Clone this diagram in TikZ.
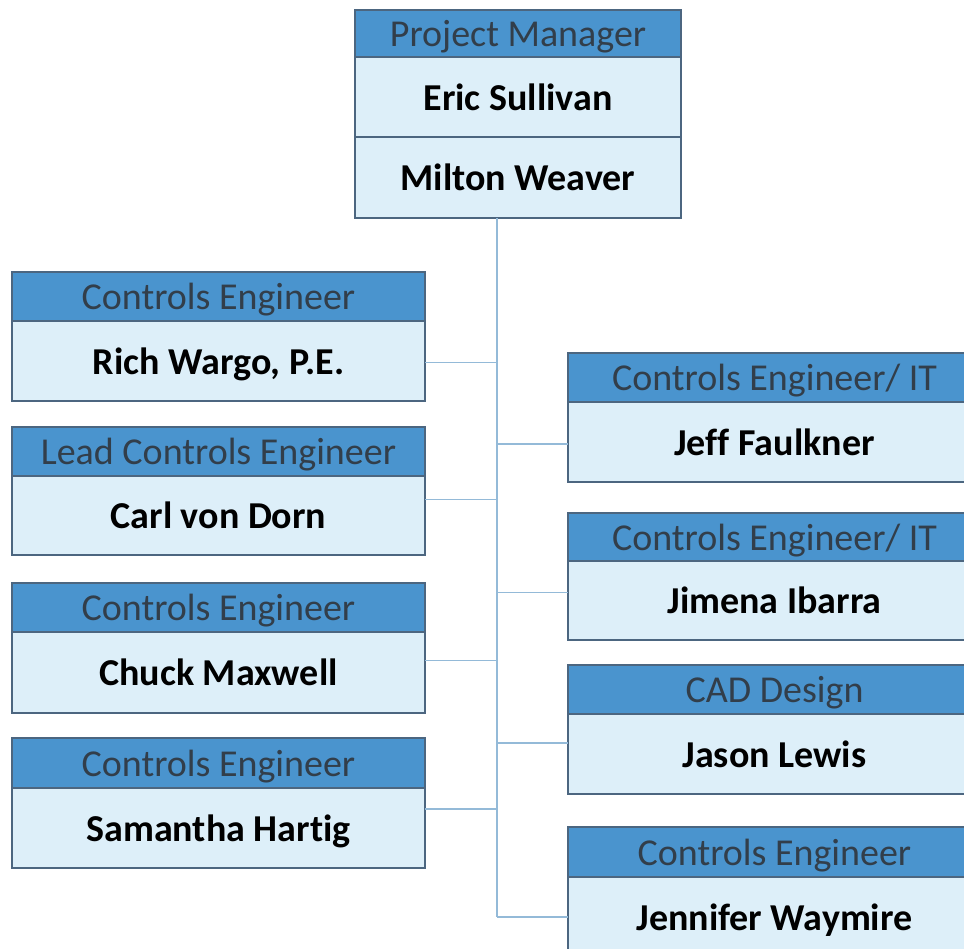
\documentclass[tikz,border=0pt]{standalone}
\usepackage{fontspec}
\setmainfont{Carlito}[Ligatures=NoCommon]
\usepackage{tikz}
\usetikzlibrary{positioning}
\definecolor{kopfblau}{RGB}{74,148,206}
\definecolor{feldblau}{RGB}{221,239,249}
\definecolor{rahmen}{RGB}{76,102,128}
\definecolor{linienblau}{RGB}{148,186,216}
\definecolor{kopfschrift}{RGB}{50,62,74}
\def \breiteSpalte {413pt}
\def \breiteOben {326pt}
\tikzset{
  kopf/.style={draw=rahmen,line width=1.5pt,fill=kopfblau,text=kopfschrift,
    minimum width=\breiteSpalte,minimum height=49pt,inner sep=0pt,outer sep=0pt,
    text depth=0pt,anchor=north west,font=\fontsize{38}{38}\selectfont},
  feld/.style={draw=rahmen,line width=1.5pt,fill=feldblau,text=black,
    minimum width=\breiteSpalte,minimum height=80pt,inner sep=0pt,outer sep=0pt,
    text depth=0pt,below=0pt of #1,font=\bfseries\fontsize{38}{38}\selectfont},
  verbinder/.style={draw=linienblau,line width=1.5pt}
}

\begin{document}
\begin{tikzpicture}[x=1pt,y=-1pt]
  \useasboundingbox (0,0) rectangle (964,948);
  \clip (0,0) rectangle (964,948);

  % Projektleitung
  \node[kopf,minimum width=\breiteOben,minimum height=47pt] (pm) at (355,10) {Project Manager};
  \node[feld=pm,minimum width=\breiteOben] (eric) {Eric Sullivan};
  \node[feld=eric,minimum width=\breiteOben,minimum height=81pt] (milton) {Milton Weaver};

  % linke Spalte
  \node[kopf] (kopf-rich) at (12,272) {Controls Engineer};
  \node[feld=kopf-rich] (rich) {Rich Wargo, P.E.};
  \node[kopf] (kopf-carl) at (12,427) {Lead Controls Engineer};
  \node[feld=kopf-carl,minimum height=79pt] (carl) {Carl von Dorn};
  \node[kopf] (kopf-chuck) at (12,583) {Controls Engineer};
  \node[feld=kopf-chuck,minimum height=81pt] (chuck) {Chuck Maxwell};
  \node[kopf,minimum height=50pt] (kopf-samantha) at (12,738) {Controls Engineer};
  \node[feld=kopf-samantha] (samantha) {Samantha Hartig};

  % rechte Spalte
  \node[kopf] (kopf-jeff) at (568,353) {Controls Engineer/ IT};
  \node[feld=kopf-jeff] (jeff) {Jeff Faulkner};
  \node[kopf,minimum height=48pt] (kopf-jimena) at (568,513) {Controls Engineer/ IT};
  \node[feld=kopf-jimena,minimum height=79pt] (jimena) {Jimena Ibarra};
  \node[kopf] (kopf-jason) at (568,665) {CAD Design};
  \node[feld=kopf-jason] (jason) {Jason Lewis};
  \node[kopf,minimum height=50pt] (kopf-jennifer) at (568,827) {Controls Engineer};
  \node[feld=kopf-jennifer] (jennifer) {Jennifer Waymire};

  % Verbindungen
  \coordinate (stamm) at (497,218);
  \draw[verbinder] (stamm) -- (stamm |- jennifer.west);
  \draw[verbinder] ([yshift=-1.5pt]rich.east) -- ([yshift=-1.5pt]rich.east -| stamm);
  \draw[verbinder] ([yshift=16pt]carl.east) -- ([yshift=16pt]carl.east -| stamm);
  \draw[verbinder] ([yshift=12pt]chuck.east) -- ([yshift=12pt]chuck.east -| stamm);
  \draw[verbinder] ([yshift=19pt]samantha.east) -- ([yshift=19pt]samantha.east -| stamm);
  \draw[verbinder] ([yshift=-2pt]jeff.west) -- ([yshift=-2pt]jeff.west -| stamm);
  \draw[verbinder] ([yshift=8pt]jimena.west) -- ([yshift=8pt]jimena.west -| stamm);
  \draw[verbinder] ([yshift=11pt]jason.west) -- ([yshift=11pt]jason.west -| stamm);
  \draw[verbinder] (jennifer.west) -- (jennifer.west -| stamm);
\end{tikzpicture}
\end{document}
